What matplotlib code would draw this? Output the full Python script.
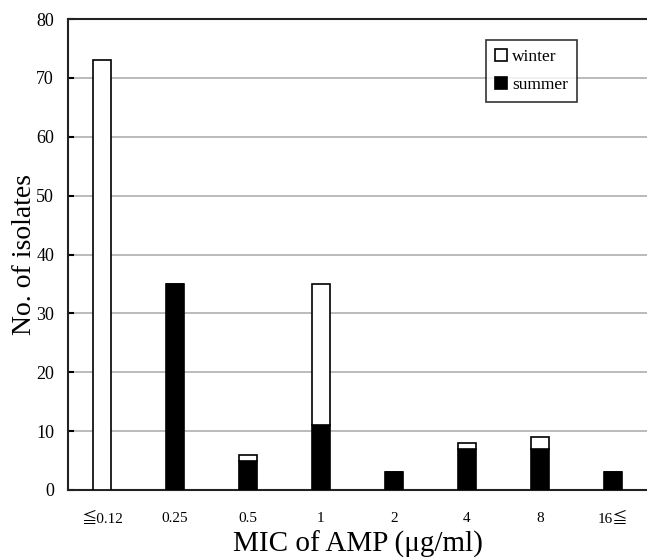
import matplotlib.pyplot as plt
import numpy as np

# Data
categories = ['≦0.12', '0.25', '0.5', '1', '2', '4', '8', '16≦']
summer = [0, 35, 5, 11, 3, 7, 7, 3]
winter = [73, 0, 1, 24, 0, 1, 2, 0]

plt.rcParams['font.family'] = ['Liberation Serif', 'Noto Sans CJK JP', 'DejaVu Serif']

fig = plt.figure(figsize=(6.47, 5.59), dpi=100)
ax = fig.add_axes([68 / 647, 1 - 490 / 559, 1 - 68 / 647, (490 - 19) / 559])

x = np.arange(len(categories))
w = 0.25
ax.bar(x, summer, w, color='black', edgecolor='black', linewidth=1.2, label='summer', zorder=3)
ax.bar(x, winter, w, bottom=summer, color='white', edgecolor='black', linewidth=1.2,
       label='winter', zorder=3)

ax.set_xlim(-0.466, 7.47)
ax.set_ylim(0, 80)
ax.set_yticks(range(0, 81, 10))
ax.set_xticks(x)
ax.set_xticklabels(categories, fontsize=11)
ax.tick_params(axis='x', length=0, pad=16)
ax.tick_params(axis='y', direction='in', length=4, width=1.5, labelsize=13, pad=10)
ax.yaxis.grid(True, color='#b5b5b5', linewidth=1.3, zorder=0)
ax.set_axisbelow(True)

for s in ['left', 'bottom', 'top']:
    ax.spines[s].set_linewidth(1.5)
    ax.spines[s].set_color('#222222')
ax.spines['right'].set_visible(False)

ax.set_xlabel('MIC of AMP (μg/ml)', fontsize=21, labelpad=3)
ax.set_ylabel('No. of isolates', fontsize=20, labelpad=-1)

h, l = ax.get_legend_handles_labels()
leg = ax.legend(h[::-1], l[::-1], loc='upper left', bbox_to_anchor=((486 - 68) / 579, (490 - 40) / 471),
                fontsize=12.5, frameon=True, fancybox=False, edgecolor='black',
                handlelength=0.7, handleheight=0.7, handletextpad=0.3,
                borderpad=0.5, labelspacing=0.7, borderaxespad=0)
leg.get_frame().set_linewidth(1.2)

plt.savefig('out.png', dpi=100)
